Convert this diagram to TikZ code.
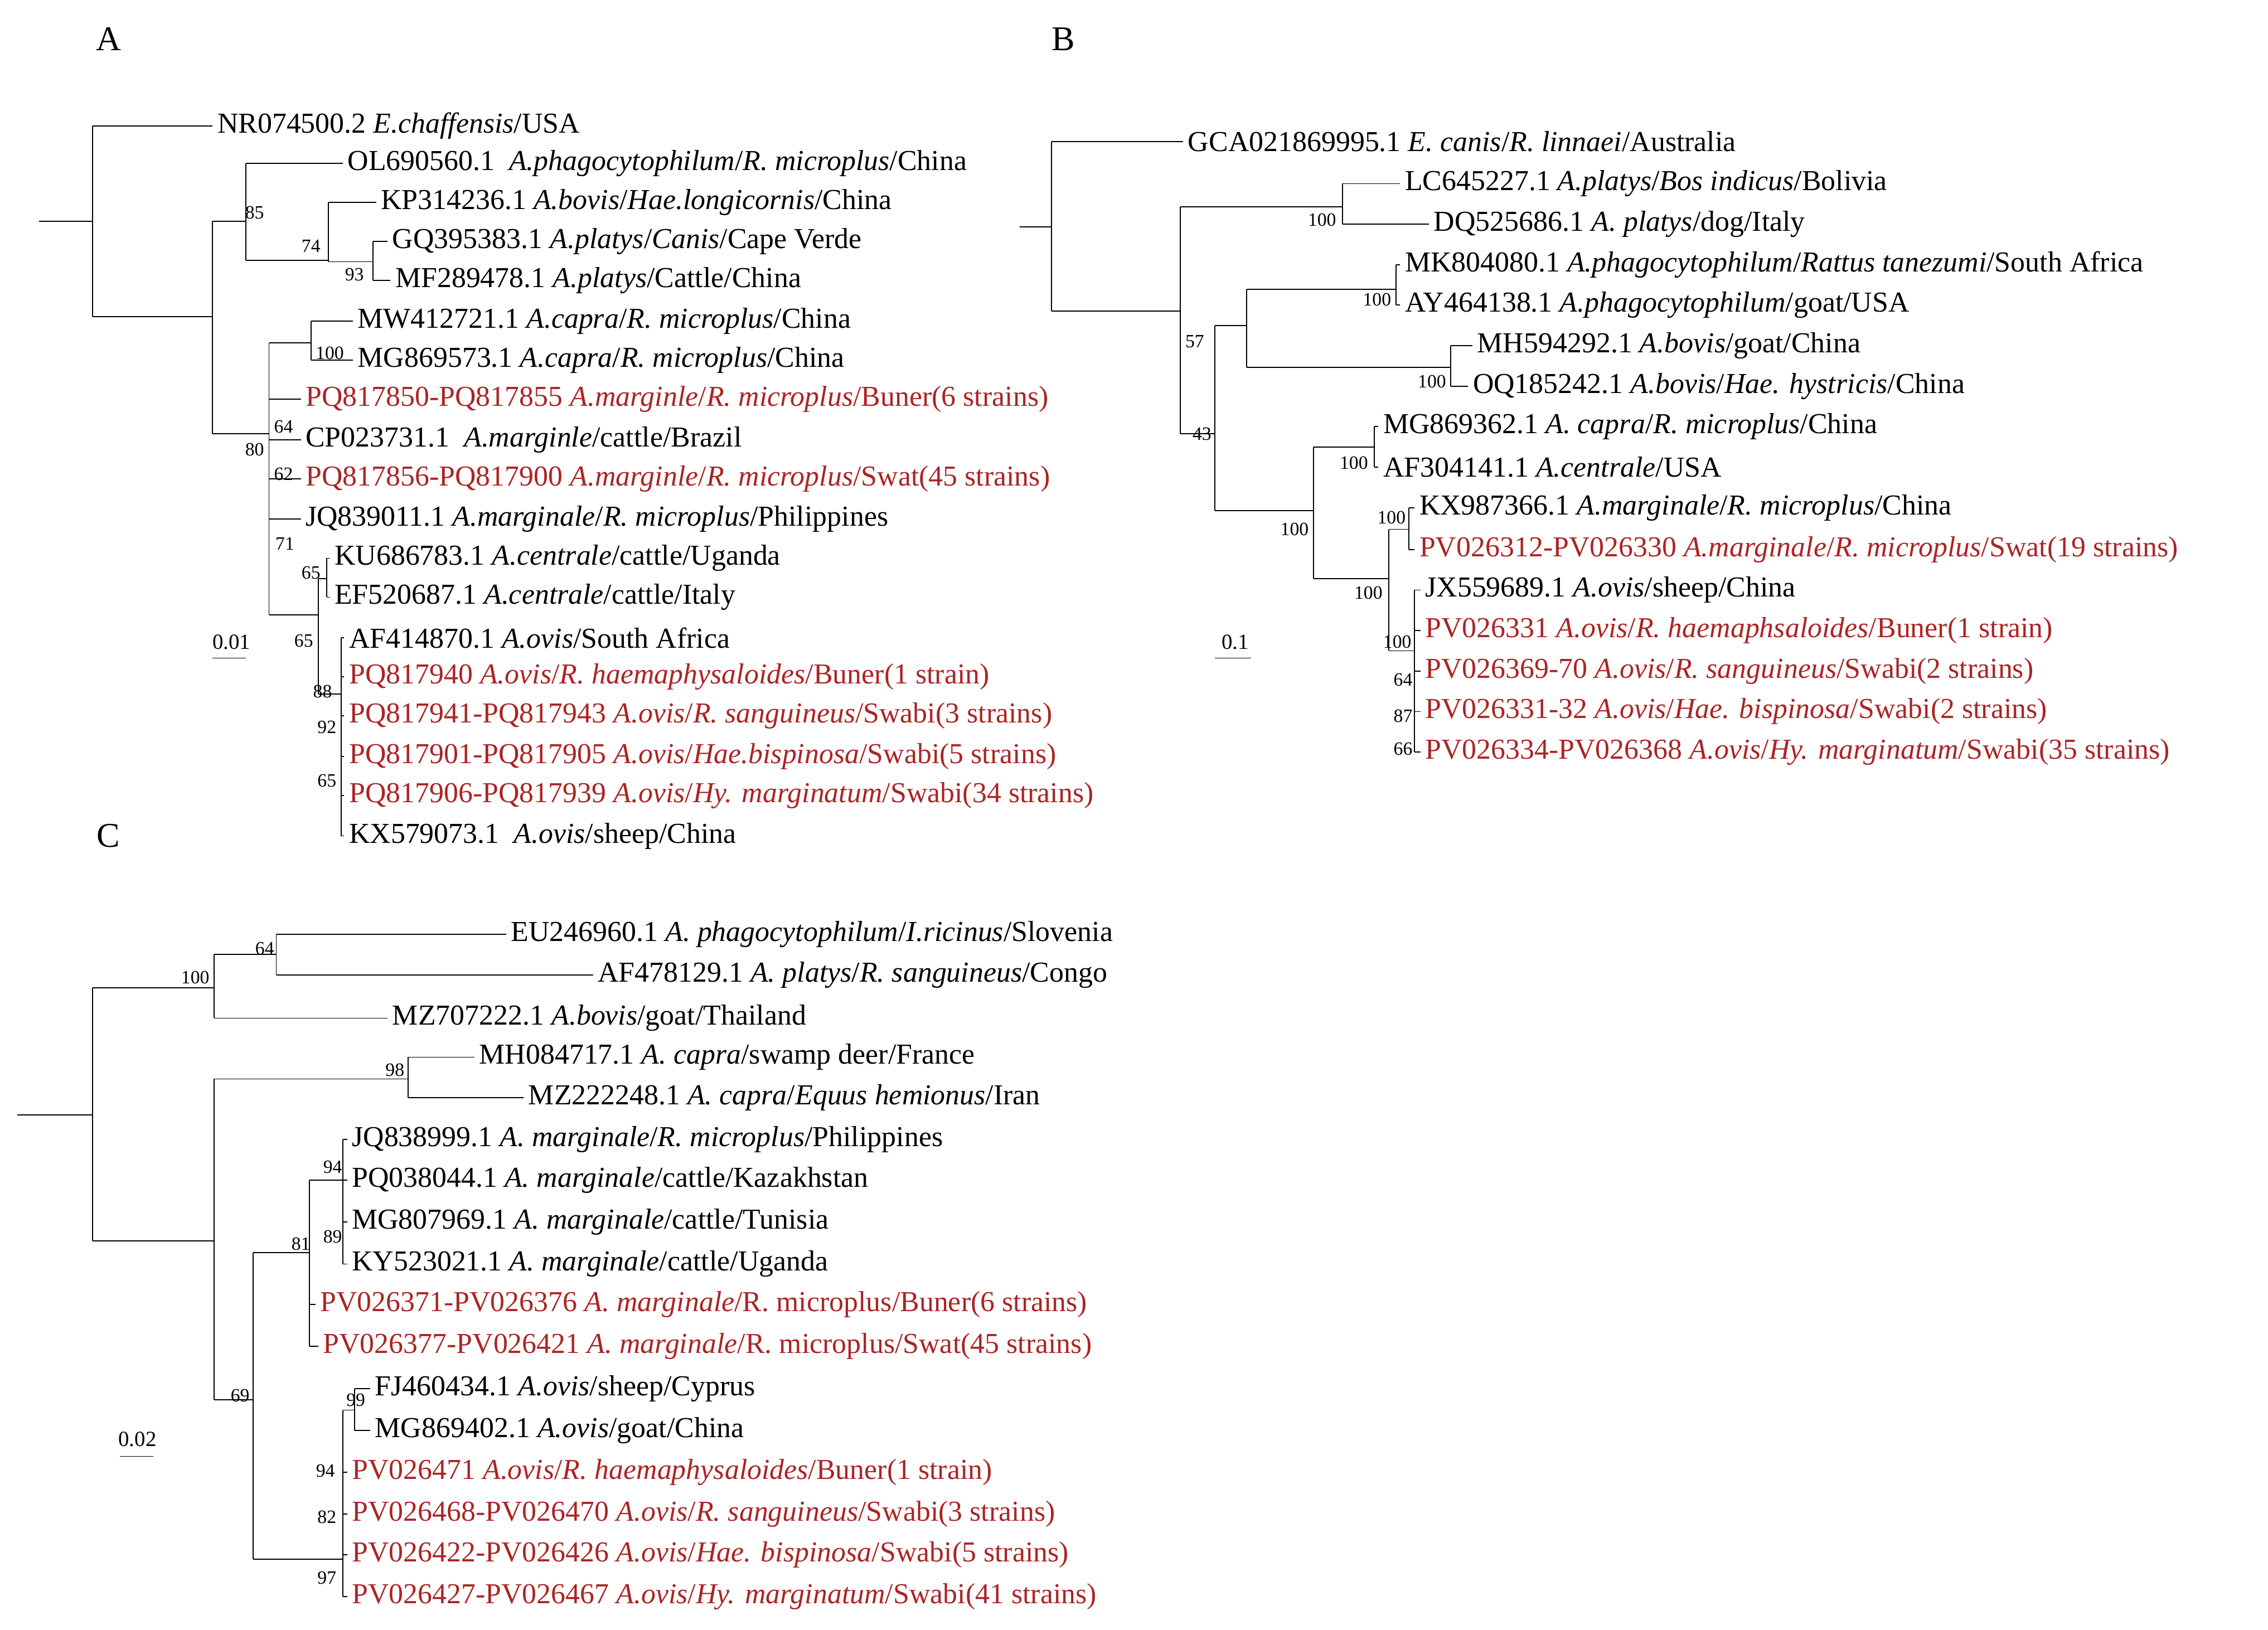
\documentclass[tikz,border=0pt]{standalone}
\usepackage{fontspec}
\setmainfont{Liberation Serif}
\definecolor{tred}{RGB}{172,36,36}
\begin{document}
\begin{tikzpicture}[x=0.5pt,y=-0.5pt,line width=0.35pt,
 lbl/.style={anchor=west,inner sep=1.5pt,font=\fontsize{10}{12}\selectfont},
 rl/.style={lbl,text=tred},
 bs/.style={inner sep=0pt,font=\fontsize{6.5}{7}\selectfont},
 pan/.style={font=\fontsize{12}{14}\selectfont}]
\useasboundingbox (0,0) rectangle (1568,1127);
% ---------- A ----------
\node[pan] (pA) at (75,27) {A};
\draw (27,153)--(64,153) (64,87)--(64,219);
\draw (64,87)--(147,87) node[lbl]{NR074500.2 \textit{E.chaffensis}/USA};
\draw (64,219)--(147,219) (147,153)--(147,300);
\draw (147,153)--(170,153) (170,113)--(170,180);
\draw (170,113)--(237,113) node[lbl]{OL690560.1\ \ \textit{A.phagocytophilum}/\textit{R. microplus}/China};
\draw (170,180)--(227,180) (227,140)--(227,181);
\draw (227,140)--(260,140) node[lbl]{KP314236.1 \textit{A.bovis}/\textit{Hae.longicornis}/China};
\draw (227,181)--(258,181) (258,167)--(258,194);
\draw (258,167)--(268,167) node[lbl]{GQ395383.1 \textit{A.platys}/\textit{Canis}/Cape Verde};
\draw (258,194)--(270,194) node[lbl]{MF289478.1 \textit{A.platys}/Cattle/China};
\node[bs] (a85) at (176,147){85}; \node[bs] (a74) at (215,170){74}; \node[bs] (a93) at (245,190){93};
\draw (147,300)--(186,300) (186,237)--(186,425);
\draw (186,237)--(215,237) (215,222)--(215,249);
\draw (215,222)--(244,222) node[lbl]{MW412721.1 \textit{A.capra}/\textit{R. microplus}/China};
\draw (215,249)--(244,249) node[lbl]{MG869573.1 \textit{A.capra}/\textit{R. microplus}/China};
\node[bs] (a100) at (228,244){100};
\draw (186,276)--(208,276) node[rl]{PQ817850-PQ817855 \textit{A.marginle}/\textit{R. microplus}/Buner(6 strains)};
\draw (186,304)--(208,304) node[lbl]{CP023731.1\ \ \textit{A.marginle}/cattle/Brazil};
\draw (186,331)--(208,331) node[rl]{PQ817856-PQ817900 \textit{A.marginle}/\textit{R. microplus}/Swat(45 strains)};
\draw (186,359)--(208,359) node[lbl]{JQ839011.1 \textit{A.marginale}/\textit{R. microplus}/Philippines};
\node[bs] (a64) at (196,295){64}; \node[bs] (a80) at (176,311){80}; \node[bs] (a62) at (196,328){62}; \node[bs] (a71) at (197,376){71};
\draw (186,425)--(220,425) (220,400)--(220,480);
\draw (220,400)--(226,400) (226,386)--(226,413);
\draw (226,386)--(228,386) node[lbl]{KU686783.1 \textit{A.centrale}/cattle/Uganda};
\draw (226,413)--(228,413) node[lbl]{EF520687.1 \textit{A.centrale}/cattle/Italy};
\node[bs] (a65) at (215,396){65}; \node[bs] (a65b) at (210,443){65};
\draw (220,480)--(236,480) (236,441)--(236,578);
\draw (236,441)--(238,441) node[lbl]{AF414870.1 \textit{A.ovis}/South Africa};
\draw (236,468)--(238,468) node[rl]{PQ817940 \textit{A.ovis}/\textit{R. haemaphysaloides}/Buner(1 strain)};
\draw (236,495)--(238,495) node[rl]{PQ817941-PQ817943 \textit{A.ovis}/\textit{R. sanguineus}/Swabi(3 strains)};
\draw (236,523)--(238,523) node[rl]{PQ817901-PQ817905 \textit{A.ovis}/\textit{Hae.bispinosa}/Swabi(5 strains)};
\draw (236,550)--(238,550) node[rl]{PQ817906-PQ817939 \textit{A.ovis}/\textit{Hy. marginatum}/Swabi(34 strains)};
\draw (236,578)--(238,578) node[lbl]{KX579073.1\ \ \textit{A.ovis}/sheep/China};
\node[bs] (a88) at (223,478){88}; \node[bs] (a92) at (226,503){92}; \node[bs] (a65c) at (226,540){65};
\draw (147,455)--(170,455); \node[bs,font=\fontsize{7.5}{8}\selectfont] (sA) at (160,444){0.01};
% ---------- B ----------
\node[pan] (pB) at (735,27) {B};
\draw (705,157)--(727,157) (727,98)--(727,215);
\draw (727,98)--(818,98) node[lbl]{GCA021869995.1 \textit{E. canis}/\textit{R. linnaei}/Australia};
\draw (727,215)--(816,215) (816,143)--(816,300);
\draw (816,143)--(928,143) (928,127)--(928,155);
\draw (928,127)--(968,127) node[lbl]{LC645227.1 \textit{A.platys}/\textit{Bos indicus}/Bolivia};
\draw (928,155)--(988,155) node[lbl]{DQ525686.1 \textit{A. platys}/dog/Italy};
\node[bs] (b100a) at (914,152){100};
\draw (816,300)--(840,300) (840,225)--(840,353);
\node[bs] (b43) at (831,300){43}; \node[bs] (b57) at (826,236){57};
\draw (840,225)--(862,225) (862,200)--(862,254);
\draw (862,200)--(965,200) (965,183)--(965,211);
\draw (965,183)--(968,183) node[lbl]{MK804080.1 \textit{A.phagocytophilum}/\textit{Rattus tanezumi}/South Africa};
\draw (965,211)--(968,211) node[lbl]{AY464138.1 \textit{A.phagocytophilum}/goat/USA};
\node[bs] (b100b) at (952,207){100};
\draw (862,254)--(1003,254) (1003,239)--(1003,267);
\draw (1003,239)--(1018,239) node[lbl]{MH594292.1 \textit{A.bovis}/goat/China};
\draw (1003,267)--(1015,267) node[lbl]{OQ185242.1 \textit{A.bovis}/\textit{Hae. hystricis}/China};
\node[bs] (b100c) at (990,264){100};
\draw (840,353)--(908,353) (908,309)--(908,400);
\node[bs] (b100d) at (895,366){100};
\draw (908,309)--(950,309) (950,295)--(950,323);
\draw (950,295)--(953,295) node[lbl]{MG869362.1 \textit{A. capra}/\textit{R. microplus}/China};
\draw (950,323)--(953,323) node[lbl]{AF304141.1 \textit{A.centrale}/USA};
\node[bs] (b100e) at (936,320){100};
\draw (908,400)--(960,400) (960,366)--(960,450);
\node[bs] (b100f) at (946,410){100};
\draw (960,366)--(974,366) (974,351)--(974,380);
\draw (974,351)--(978,351) node[lbl]{KX987366.1 \textit{A.marginale}/\textit{R. microplus}/China};
\draw (974,380)--(978,380) node[rl]{PV026312-PV026330 \textit{A.marginale}/\textit{R. microplus}/Swat(19 strains)};
\node[bs] (b100g) at (962,358){100};
\draw (960,450)--(978,450) (978,408)--(978,520);
\draw (978,408)--(982,408) node[lbl]{JX559689.1 \textit{A.ovis}/sheep/China};
\draw (978,436)--(982,436) node[rl]{PV026331 \textit{A.ovis}/\textit{R. haemaphsaloides}/Buner(1 strain)};
\draw (978,464)--(982,464) node[rl]{PV026369-70 \textit{A.ovis}/\textit{R. sanguineus}/Swabi(2 strains)};
\draw (978,492)--(982,492) node[rl]{PV026331-32 \textit{A.ovis}/\textit{Hae. bispinosa}/Swabi(2 strains)};
\draw (978,520)--(982,520) node[rl]{PV026334-PV026368 \textit{A.ovis}/\textit{Hy. marginatum}/Swabi(35 strains)};
\node[bs] (b100h) at (966,444){100}; \node[bs] (b64) at (970,470){64}; \node[bs] (b87) at (970,495){87}; \node[bs] (b66) at (970,518){66};
\draw (840,455)--(865,455); \node[bs,font=\fontsize{7.5}{8}\selectfont] (sB) at (854,444){0.1};
% ---------- C ----------
\node[pan] (pC) at (75,578) {C};
\draw (12,771)--(64,771) (64,683)--(64,858);
\draw (64,683)--(148,683) (148,660)--(148,704);
\node[bs] (c100) at (135,676){100};
\draw (148,660)--(191,660) (191,646)--(191,674);
\node[bs] (c64) at (183,656){64};
\draw (191,646)--(350,646) node[lbl]{EU246960.1 \textit{A. phagocytophilum}/\textit{I.ricinus}/Slovenia};
\draw (191,674)--(410,674) node[lbl]{AF478129.1 \textit{A. platys}/\textit{R. sanguineus}/Congo};
\draw (148,704)--(268,704) node[lbl]{MZ707222.1 \textit{A.bovis}/goat/Thailand};
\draw (64,858)--(148,858) (148,746)--(148,968);
\draw (148,746)--(282,746) (282,731)--(282,759);
\node[bs] (c98) at (273,740){98};
\draw (282,731)--(328,731) node[lbl]{MH084717.1 \textit{A. capra}/swamp deer/France};
\draw (282,759)--(362,759) node[lbl]{MZ222248.1 \textit{A. capra}/\textit{Equus hemionus}/Iran};
\draw (148,968)--(175,968) (175,866)--(175,1078);
\node[bs] (c69) at (166,965){69};
\draw (175,866)--(214,866) (214,816)--(214,931);
\node[bs] (c81) at (208,860){81};
\draw (214,816)--(237,816) (237,788)--(237,874);
\node[bs] (c94) at (230,807){94}; \node[bs] (c89) at (230,855){89};
\draw (237,788)--(240,788) node[lbl]{JQ838999.1 \textit{A. marginale}/\textit{R. microplus}/Philippines};
\draw (237,816)--(240,816) node[lbl]{PQ038044.1 \textit{A. marginale}/cattle/Kazakhstan};
\draw (237,845)--(240,845) node[lbl]{MG807969.1 \textit{A. marginale}/cattle/Tunisia};
\draw (237,874)--(240,874) node[lbl]{KY523021.1 \textit{A. marginale}/cattle/Uganda};
\draw (214,902)--(218,902) node[rl]{PV026371-PV026376 \textit{A. marginale}/R. microplus/Buner(6 strains)};
\draw (214,931)--(220,931) node[rl]{PV026377-PV026421 \textit{A. marginale}/R. microplus/Swat(45 strains)};
\draw (175,1078)--(237,1078) (237,975)--(237,1104);
\draw (237,975)--(245,975) (245,960)--(245,989);
\node[bs] (c99) at (246,968){99};
\draw (245,960)--(256,960) node[lbl]{FJ460434.1 \textit{A.ovis}/sheep/Cyprus};
\draw (245,989)--(256,989) node[lbl]{MG869402.1 \textit{A.ovis}/goat/China};
\draw (237,1018)--(240,1018) node[rl]{PV026471 \textit{A.ovis}/\textit{R. haemaphysaloides}/Buner(1 strain)};
\draw (237,1047)--(240,1047) node[rl]{PV026468-PV026470 \textit{A.ovis}/\textit{R. sanguineus}/Swabi(3 strains)};
\draw (237,1075)--(240,1075) node[rl]{PV026422-PV026426 \textit{A.ovis}/\textit{Hae. bispinosa}/Swabi(5 strains)};
\draw (237,1104)--(240,1104) node[rl]{PV026427-PV026467 \textit{A.ovis}/\textit{Hy. marginatum}/Swabi(41 strains)};
\node[bs] (c94b) at (225,1017){94}; \node[bs] (c82) at (226,1049){82}; \node[bs] (c97) at (226,1091){97};
\draw (83,1007)--(106,1007); \node[bs,font=\fontsize{7.5}{8}\selectfont] (sC) at (95,995){0.02};
\end{tikzpicture}
\end{document}
